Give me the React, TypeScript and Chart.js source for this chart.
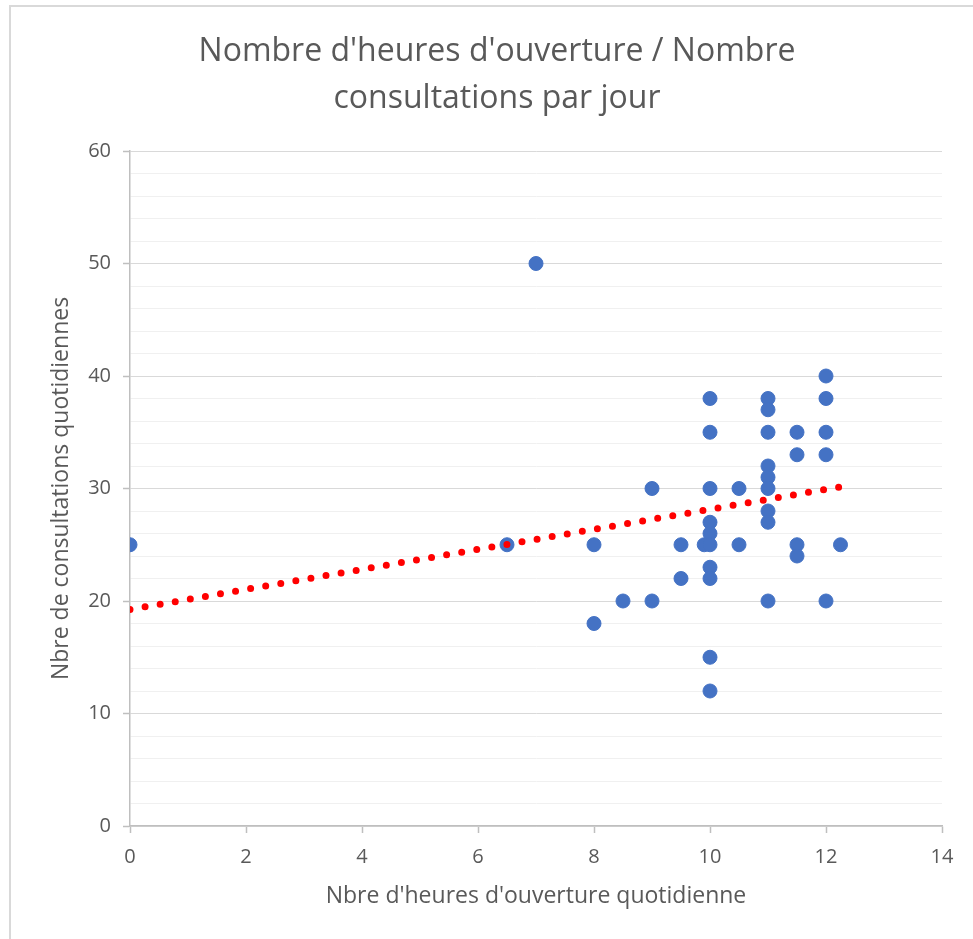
import React, { useEffect, useRef } from "react";
import { Chart, registerables } from "chart.js";

Chart.register(...registerables);

const titleLines = ["Nombre d'heures d'ouverture / Nombre", "consultations par jour"];
const xAxisTitle = "Nbre d'heures d'ouverture quotidienne";
const yAxisTitle = "Nbre de consultations quotidiennes";

const hours = [0, 6.5, 7, 8, 8, 8.5, 9, 9, 9.5, 9.5, 9.9, 10, 10, 10, 10, 10, 10, 10, 10, 10, 10, 10.5, 10.5, 11, 11, 11, 11, 11, 11, 11, 11, 11, 11.5, 11.5, 11.5, 11.5, 12, 12, 12, 12, 12, 12.25];
const consultations = [25, 25, 50, 25, 18, 20, 30, 20, 25, 22, 25, 38, 35, 30, 27, 26, 25, 23, 22, 15, 12, 30, 25, 38, 37, 35, 32, 31, 30, 28, 27, 20, 35, 33, 25, 24, 40, 38, 35, 33, 20, 25];

const trendX = [0, 12.25];
const trendY = [19.25, 30.15];

const FONT = "'Open Sans', 'Segoe UI', sans-serif";
const TEXT = "#595959";

const centerTitle = {
  id: "centerTitle",
  afterLayout(chart: any) {
    const t = chart.titleBlock;
    if (t) {
      t.left = 0;
      t.right = 972;
      t.width = 972;
    }
  },
};

export default function App() {
  const ref = useRef<HTMLCanvasElement | null>(null);

  useEffect(() => {
    if (!ref.current) return;
    const points = hours.map((h, i) => ({ x: h, y: consultations[i] }));
    const trend = trendX.map((x, i) => ({ x, y: trendY[i] }));
    const chart = new Chart(ref.current, {
      type: "scatter",
      data: {
        datasets: [
          {
            label: "trend",
            data: trend,
            showLine: true,
            pointRadius: 0,
            borderColor: "#ff0000",
            borderWidth: 7,
            borderDash: [0, 15.3],
            borderCapStyle: "round",
            order: 0,
          },
          {
            label: "points",
            data: points,
            pointRadius: 7,
            pointBorderWidth: 1,
            backgroundColor: "#4472C4",
            borderColor: "#4472C4",
            order: 1,
          },
        ],
      },
      plugins: [centerTitle],
      options: {
        animation: false,
        responsive: false,
        events: [],
        layout: { padding: { left: 0, right: 31, top: 0, bottom: 0 } },
        plugins: {
          legend: { display: false },
          tooltip: { enabled: false },
          title: {
            display: true,
            text: titleLines,
            color: TEXT,
            font: { family: FONT, size: 32, weight: "normal", lineHeight: 47 / 32 },
            padding: { top: 21, bottom: 29 },
          },
        },
        scales: {
          x: {
            type: "linear",
            min: 0,
            max: 14,
            afterFit: (s: any) => {
              s.height = 113;
            },
            ticks: {
              stepSize: 2,
              color: TEXT,
              font: { family: FONT, size: 20 },
              padding: 12,
              maxRotation: 0,
            },
            grid: {
              drawOnChartArea: false,
              drawTicks: true,
              tickLength: 7,
              tickColor: "#bfbfbf",
              tickWidth: 1.5,
            },
            border: { display: true, color: "#bfbfbf", width: 1.5 },
            title: {
              display: true,
              text: xAxisTitle,
              color: TEXT,
              font: { family: FONT, size: 23, lineHeight: 1.2 },
              padding: { top: 4, bottom: 29 },
            },
          },
          y: {
            type: "linear",
            min: 0,
            max: 60,
            afterFit: (s: any) => {
              s.width = 119;
            },
            ticks: {
              stepSize: 2,
              autoSkip: false,
              color: TEXT,
              font: { family: FONT, size: 20 },
              padding: 12,
              callback: (v: any) => (Number(v) % 10 === 0 ? String(v) : ""),
            },
            grid: {
              color: (ctx: any) => (ctx.tick && ctx.tick.value % 10 === 0 ? "#d9d9d9" : "#f0f0f0"),
              lineWidth: 1,
              drawTicks: true,
              tickLength: 7,
              tickColor: (ctx: any) => (ctx.tick && ctx.tick.value % 10 === 0 ? "#bfbfbf" : "rgba(0,0,0,0)"),
              tickWidth: 1.5,
            },
            border: { display: true, color: "#bfbfbf", width: 1.5 },
            title: {
              display: true,
              text: yAxisTitle,
              color: TEXT,
              font: { family: FONT, size: 23, lineHeight: 1.2 },
              padding: { top: 37, bottom: 4 },
            },
          },
        },
      },
    });
    return () => chart.destroy();
  }, []);

  return (
    <div
      style={{
        position: "absolute",
        left: 9,
        top: 5,
        width: 962,
        height: 932,
        borderLeft: "2px solid #d9d9d9",
        borderTop: "2px solid #d9d9d9",
        background: "#fff",
      }}
    >
      <canvas ref={ref} width={962} height={932} style={{ display: "block", width: 962, height: 932 }} />
    </div>
  );
}
